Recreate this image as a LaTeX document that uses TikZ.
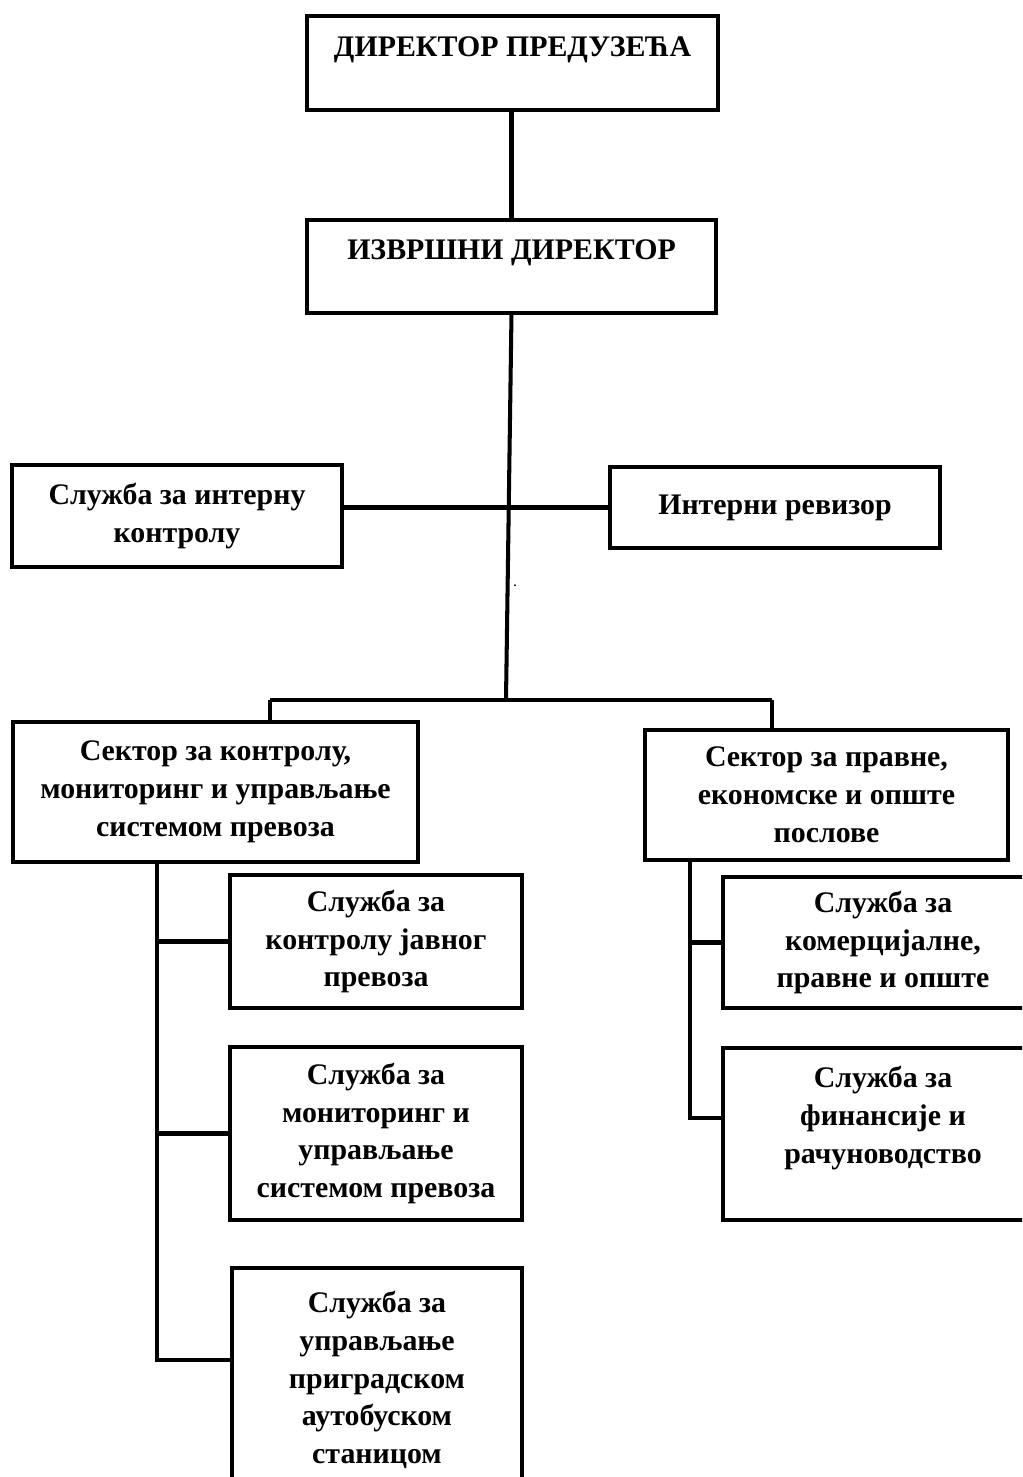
\documentclass[tikz,border=0pt]{standalone}
\usepackage{fontspec}
\setmainfont{Liberation Serif}
\usepackage{tikz}
\usetikzlibrary{positioning, calc}

\begin{document}
\begin{tikzpicture}[
  x=0.02cm, y=-0.02cm,
  box/.style={draw, line width=2.6pt, inner sep=0pt, outer sep=0pt, align=center,
              font=\fontsize{17}{21.5}\selectfont\bfseries},
  link/.style={line width=2.3pt},
]
  \useasboundingbox (0,0) rectangle (1022,1477);
  \clip (0,0) rectangle (1022,1477);

  % top of the chart
  \node[box, minimum width=8.22cm, minimum height=1.88cm, text depth=0.66cm] (dir) at (512.5,63) {ДИРЕКТОР ПРЕДУЗЕЋА};
  \node[box, minimum width=8.18cm, minimum height=1.86cm, text depth=0.66cm] (izv) at (511.5,266.5) {ИЗВРШНИ ДИРЕКТОР};
  \draw[link] (dir.south) -- (izv.south |- dir.south) -- (izv.north);

  % staff units
  \node[box, minimum width=6.6cm, minimum height=2.04cm] (sik) at (177,516) {Служба за интерну\\контролу};
  \node[box, minimum width=6.6cm, minimum height=1.62cm] (rev) at (775,507.5) {Интерни ревизор};
  \draw[link] (rev.west) -- (rev.west -| sik.east);
  \node[font=\small] (dot) at (515,586) {.};

  % sectors
  \coordinate (bus) at (506,700);
  \coordinate (busL) at (270,700);
  \coordinate (busR) at (772,700);
  \node[box, minimum width=8.1cm, minimum height=2.8cm] (skm) at (215.5,792) {Сектор за контролу,\\мониторинг и управљање\\системом превоза};
  \node[box, minimum width=7.26cm, minimum height=2.6cm] (spe) at (826.5,795) {Сектор за правне,\\економске и опште\\послове};
  \draw[link] (izv.south) -- (bus);
  \draw[link] (busL) -- (busR);
  \draw[link] (busL) -- (busL |- skm.north);
  \draw[link] (busR) -- (busR |- spe.north);

  % left column
  \node[box, minimum width=5.84cm, minimum height=2.66cm] (kjp) at (376,941.5) {Служба за\\контролу јавног\\превоза};
  \node[box, minimum width=5.84cm, minimum height=3.46cm] (mon) at (376,1133.5) {Служба за\\мониторинг и\\управљање\\системом превоза};
  \node[box, minimum width=5.8cm, minimum height=4.48cm] (upr) at (377,1380) {Служба за\\управљање\\приградском\\аутобуском\\станицом};
  \coordinate (trL) at (157,862);
  \draw[link] (trL) |- ([yshift=0.4cm]upr.west);
  \draw[link] (kjp.west) -- (kjp.west -| trL);
  \draw[link] (mon.west) -- (mon.west -| trL);

  % right column
  \node[box, minimum width=6.4cm, minimum height=2.62cm] (kom) at (883,942.5) {Служба за\\комерцијалне,\\правне и опште};
  \node[box, minimum width=6.4cm, minimum height=3.44cm, text depth=0.76cm] (fin) at (883,1134) {Служба за\\финансије и\\рачуноводство};
  \coordinate (trR) at (690,860);
  \draw[link] (trR) |- ([yshift=0.32cm]fin.west);
  \draw[link] (kom.west) -- (kom.west -| trR);
\end{tikzpicture}
\end{document}
